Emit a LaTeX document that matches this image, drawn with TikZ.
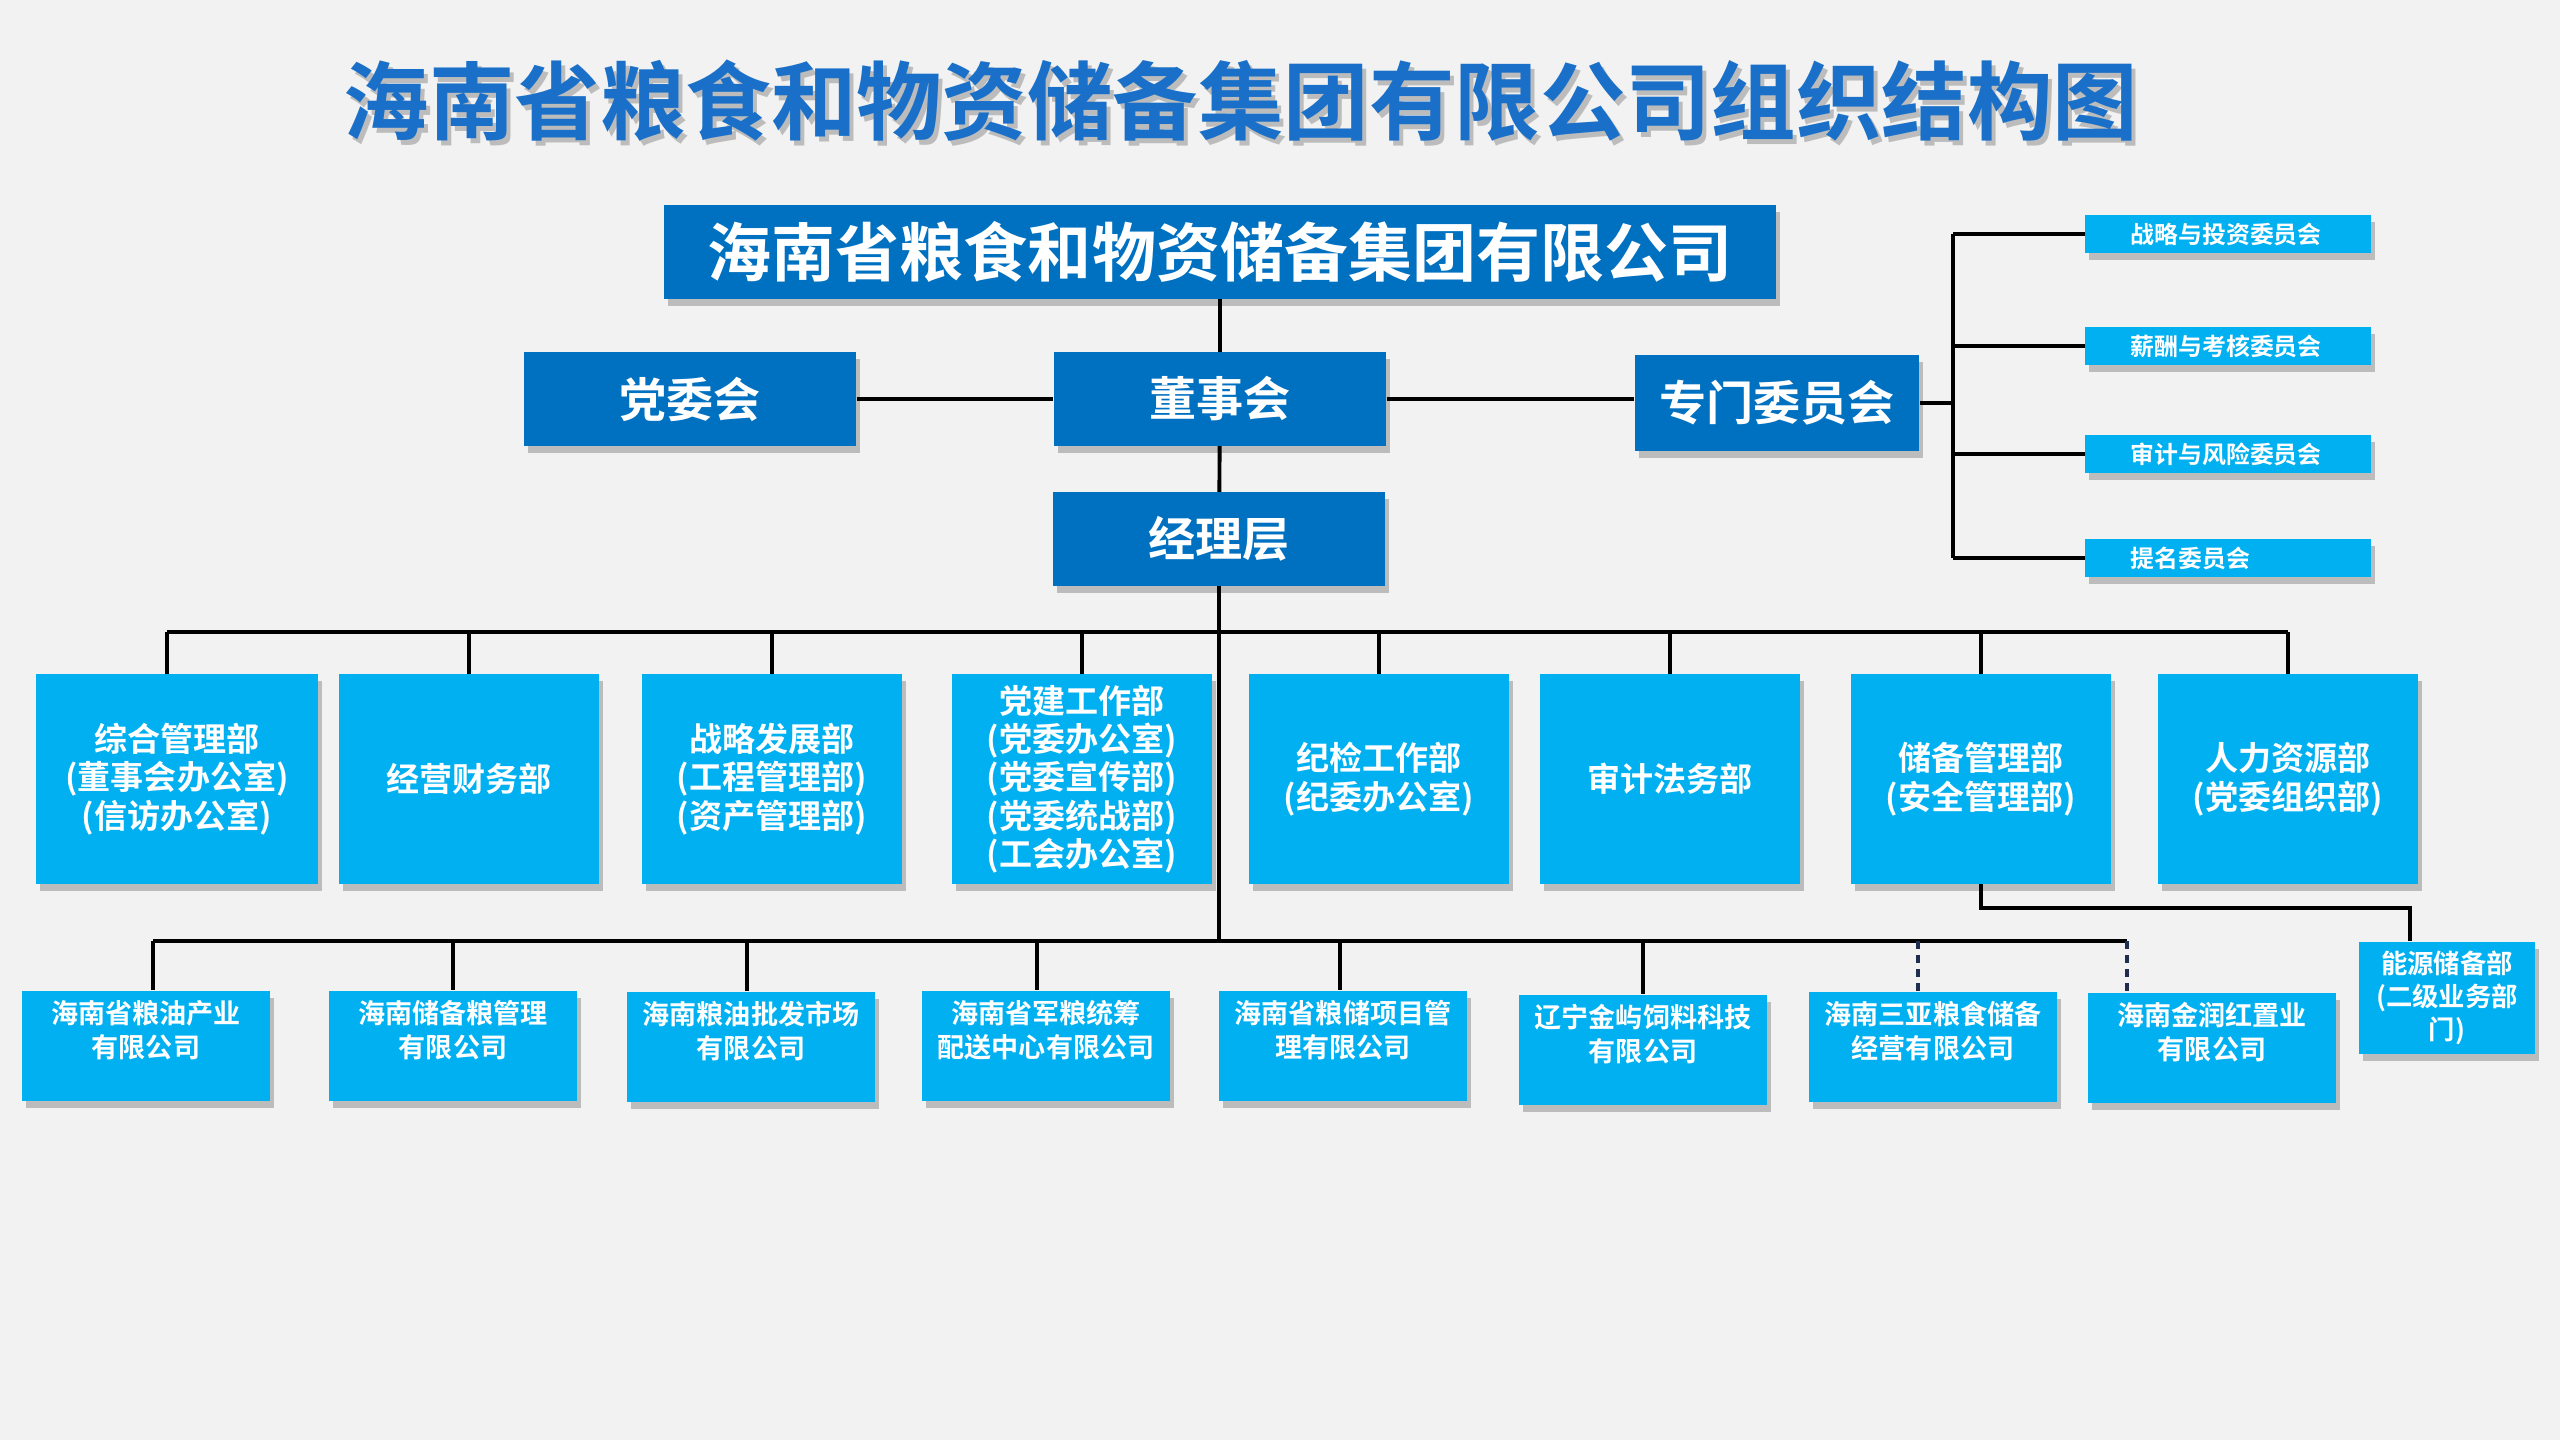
\documentclass[tikz,border=0pt]{standalone}
\usepackage{fontspec}
\setmainfont{Noto Sans CJK SC}[BoldFont={Noto Sans CJK SC Bold}]
\usepackage{tikz}
\usetikzlibrary{positioning,calc,shadows}

\definecolor{bgpage}{HTML}{F2F2F2}
\definecolor{deepblue}{HTML}{0070C0}
\definecolor{skyblue}{HTML}{00B0F0}
\definecolor{titleblue}{HTML}{1A70C8}
\definecolor{navyline}{HTML}{1F2D4F}

% top-aligned text for the subsidiaries
\newcommand{\firmtxt}[1]{\parbox[c][0.92cm][t]{2.4cm}{\centering #1}}

\begin{document}
\begin{tikzpicture}[
  x=0.01cm, y=-0.01cm,
  every node/.style={font=\bfseries, text=white, inner sep=0pt},
  boxshade/.style={drop shadow={shadow xshift=0.04cm, shadow yshift=-0.07cm, opacity=0.22, fill=black}},
  head/.style={fill=deepblue, boxshade, minimum width=11.12cm, minimum height=0.93cm, font=\bfseries\fontsize{18.2pt}{20pt}\selectfont},
  lead/.style={fill=deepblue, boxshade, minimum width=3.32cm, minimum height=0.93cm, font=\bfseries\fontsize{13.4pt}{15pt}\selectfont},
  cmte/.style={fill=skyblue, boxshade, text width=1.95cm, inner xsep=0.45cm, minimum height=0.38cm, align=left, font=\bfseries\fontsize{6.8pt}{8pt}\selectfont},
  dept/.style={fill=skyblue, boxshade, minimum width=2.59cm, minimum height=2.09cm, align=center, font=\bfseries\fontsize{9.4pt}{10.9pt}\selectfont},
  firm/.style={fill=skyblue, boxshade, minimum width=2.48cm, minimum height=1.10cm, inner ysep=0.09cm, align=center, font=\bfseries\fontsize{7.7pt}{9.7pt}\selectfont},
  link/.style={draw=black, line width=1.1pt},
  dlink/.style={draw=navyline, line width=1.1pt, dash pattern=on 2.2pt off 1.8pt}
]
% Page
\fill[bgpage] (0,0) rectangle (2560,1440);
\useasboundingbox (0,0) rectangle (2560,1440);
% Title
\node[text=black, opacity=0.22, font=\bfseries\fontsize{24.3pt}{28pt}\selectfont] (titleshade) at (1245,106) {海南省粮食和物资储备集团有限公司组织结构图};
\node[text=titleblue, font=\bfseries\fontsize{24.3pt}{28pt}\selectfont] (title) at (1241,101) {海南省粮食和物资储备集团有限公司组织结构图};
% Governance
\node[head] (group) at (1220,252) {海南省粮食和物资储备集团有限公司};
\node[lead] (party) at (690,399) {党委会};
\node[lead] (board) at (1220,399) {董事会};
\node[lead, minimum width=2.84cm, minimum height=0.95cm] (special) at (1777,403) {专门委员会};
\node[lead] (mgmt) at (1219,539) {经理层};
\draw[link] (group) -- (board);
\draw[link] (party) -- (board);
\draw[link] (board.east) -- (board.east -| special.west);
\draw[link] (board) -- (mgmt);
% Committees
\node[cmte] (c1) at (2228,234) {战略与投资委员会};
\node[cmte] (c2) at (2228,346) {薪酬与考核委员会};
\node[cmte] (c3) at (2228,454) {审计与风险委员会};
\node[cmte] (c4) at (2228,558) {提名委员会};
\coordinate (spine) at (1953,0);
\draw[link] (special.east) -- (special.east -| spine);
\draw[link] (c1.west -| spine) -- (c4.west -| spine);
\draw[link] (c1.west -| spine) -- (c1.west);
\draw[link] (c2.west -| spine) -- (c2.west);
\draw[link] (c3.west -| spine) -- (c3.west);
\draw[link] (c4.west -| spine) -- (c4.west);
% Departments
\node[dept, minimum width=2.82cm] (d1) at (177,779) {综合管理部\\(董事会办公室)\\(信访办公室)};
\node[dept] (d2) at (469,779) {经营财务部};
\node[dept] (d3) at (772,779) {战略发展部\\(工程管理部)\\(资产管理部)};
\node[dept] (d4) at (1082,779) {党建工作部\\(党委办公室)\\(党委宣传部)\\(党委统战部)\\(工会办公室)};
\node[dept] (d5) at (1379,779) {纪检工作部\\(纪委办公室)};
\node[dept] (d6) at (1670,779) {审计法务部};
\node[dept] (d7) at (1981,779) {储备管理部\\(安全管理部)};
\node[dept] (d8) at (2288,779) {人力资源部\\(党委组织部)};
\coordinate (dbus) at (0,632);
\draw[link] ([xshift=-0.10cm]d1.north |- dbus) -- (d8.north |- dbus);
\draw[link] ([xshift=-0.10cm]d1.north |- dbus) -- ([xshift=-0.10cm]d1.north);
\draw[link] (d2.north |- dbus) -- (d2.north);
\draw[link] (d3.north |- dbus) -- (d3.north);
\draw[link] (d4.north |- dbus) -- (d4.north);
\draw[link] (d5.north |- dbus) -- (d5.north);
\draw[link] (d6.north |- dbus) -- (d6.north);
\draw[link] (d7.north |- dbus) -- (d7.north);
\draw[link] (d8.north |- dbus) -- (d8.north);
% Subsidiaries
\node[firm] (s1) at (146,1046) {\firmtxt{海南省粮油产业\\有限公司}};
\node[firm] (s2) at (453,1046) {\firmtxt{海南储备粮管理\\有限公司}};
\node[firm] (s3) at (751,1047) {\firmtxt{海南粮油批发市场\\有限公司}};
\node[firm] (s4) at (1046,1046) {\firmtxt{海南省军粮统筹\\配送中心有限公司}};
\node[firm] (s5) at (1343,1046) {\firmtxt{海南省粮储项目管\\理有限公司}};
\node[firm] (s6) at (1643,1050) {\firmtxt{辽宁金屿饲料科技\\有限公司}};
\node[firm] (s7) at (1933,1047) {\firmtxt{海南三亚粮食储备\\经营有限公司}};
\node[firm] (s8) at (2212,1048) {\firmtxt{海南金润红置业\\有限公司}};
\node[firm, minimum width=1.76cm, font=\bfseries\fontsize{7.5pt}{9.4pt}\selectfont] (energy) at (2447,998) {能源储备部\\(二级业务部\\门)};
\coordinate (sbus) at (0,941);
\draw[link] (mgmt.south) -- (mgmt.south |- sbus);
\draw[link] ([xshift=0.07cm]s1.north |- sbus) -- ([xshift=-0.85cm]s8.north |- sbus);
\draw[link] ([xshift=0.07cm]s1.north |- sbus) -- ([xshift=0.07cm]s1.north);
\draw[link] (s2.north |- sbus) -- (s2.north);
\draw[link] ([xshift=-0.04cm]s3.north |- sbus) -- ([xshift=-0.04cm]s3.north);
\draw[link] ([xshift=-0.09cm]s4.north |- sbus) -- ([xshift=-0.09cm]s4.north);
\draw[link] ([xshift=-0.03cm]s5.north |- sbus) -- ([xshift=-0.03cm]s5.north);
\draw[link] (s6.north |- sbus) -- (s6.north);
\draw[dlink] ([xshift=-0.15cm]s7.north |- sbus) -- ([xshift=-0.15cm]s7.north);
\draw[dlink] ([xshift=-0.85cm]s8.north |- sbus) -- ([xshift=-0.85cm]s8.north);
% Energy branch
\draw[link] (d7.south) -- ++(0,24) -| ([xshift=-0.37cm]energy.north);
\end{tikzpicture}
\end{document}
